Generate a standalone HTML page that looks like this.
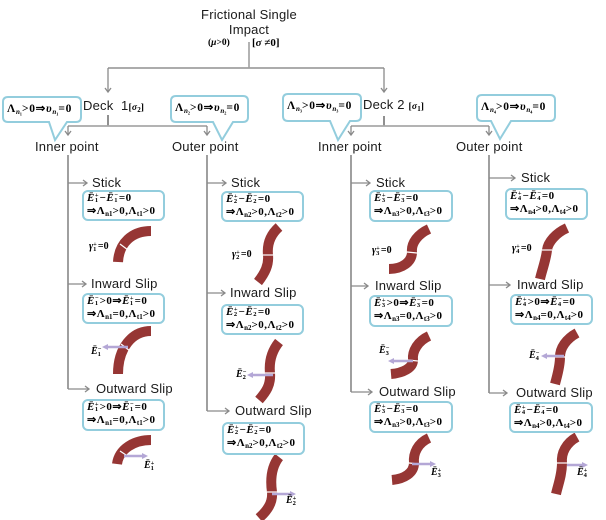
<!DOCTYPE html>
<html><head><meta charset="utf-8">
<style>
html,body{margin:0;padding:0;background:#fff;}
#c{position:relative;width:606px;height:520px;overflow:hidden;background:#fff;}
.t{position:absolute;font-family:"Liberation Sans",Arial,sans-serif;font-size:13px;line-height:16px;color:#1a1a1a;white-space:nowrap;letter-spacing:0.2px;}
.m{position:absolute;font-family:"Liberation Serif","Times New Roman",serif;font-weight:bold;color:#000;white-space:nowrap;}
.box{position:absolute;box-sizing:border-box;border:2px solid #93cddd;border-radius:6px;background:#fff;padding:0 0 0 3px;font-family:"Liberation Serif","Times New Roman",serif;font-weight:bold;font-size:11px;letter-spacing:0.5px;line-height:13px;white-space:nowrap;color:#000;}
.ss{display:inline-block;vertical-align:middle;font-size:6.5px;line-height:5px;margin:0 1px 0 0;letter-spacing:0;}
.sb{font-size:7px;vertical-align:-2px;line-height:0;letter-spacing:0;}
.co{font-size:11.5px;line-height:13px;letter-spacing:0.7px;}
i{font-style:italic;}
svg{position:absolute;left:0;top:0;}
</style></head><body><div id="c">
<svg width="606" height="520" viewBox="0 0 606 520">
 <g fill="none" stroke="#8a8a8a" stroke-width="1.3">
  <line x1="249" y1="42" x2="249" y2="68"/>
  <line x1="108" y1="68" x2="384" y2="68" stroke="#a0a0a0" stroke-width="1.8"/>
  <line x1="108" y1="68" x2="108" y2="92"/>
  <line x1="384" y1="68" x2="384" y2="92"/>
  <polyline points="105,88 108,92 111,88"/>
  <polyline points="381,88 384,92 387,88"/>
  <line x1="108" y1="115" x2="108" y2="126" stroke="#555"/>
  <line x1="68" y1="126" x2="207" y2="126" stroke="#a8a8a8" stroke-width="1.8"/>
  <line x1="68" y1="126" x2="68" y2="135"/>
  <line x1="207" y1="126" x2="207" y2="135"/>
  <polyline points="65,131 68,135 71,131"/>
  <polyline points="204,131 207,135 210,131"/>
  <line x1="384" y1="116" x2="384" y2="126" stroke="#555"/>
  <line x1="351" y1="126" x2="489" y2="126" stroke="#a8a8a8" stroke-width="1.8"/>
  <line x1="351" y1="126" x2="351" y2="135"/>
  <line x1="489" y1="126" x2="489" y2="135"/>
  <polyline points="348,131 351,135 354,131"/>
  <polyline points="486,131 489,135 492,131"/>
  <g stroke="#606060" stroke-width="1.2">
   <line x1="68" y1="155" x2="68" y2="389"/>
   <line x1="207" y1="155" x2="207" y2="411"/>
   <line x1="351" y1="155" x2="351" y2="392"/>
   <line x1="489" y1="155" x2="489" y2="393"/>
  </g>
  <line x1="68" y1="183" x2="87" y2="183"/><polyline points="83,180 87,183 83,186"/>
  <line x1="68" y1="284" x2="86" y2="284"/><polyline points="82,281 86,284 82,287"/>
  <line x1="68" y1="389" x2="89" y2="389"/><polyline points="85,386 89,389 85,392"/>
  <line x1="207" y1="183" x2="226" y2="183"/><polyline points="222,180 226,183 222,186"/>
  <line x1="207" y1="293" x2="225" y2="293"/><polyline points="221,290 225,293 221,296"/>
  <line x1="207" y1="411" x2="229" y2="411"/><polyline points="225,408 229,411 225,414"/>
  <line x1="351" y1="183" x2="370" y2="183"/><polyline points="366,180 370,183 366,186"/>
  <line x1="351" y1="286" x2="368" y2="286"/><polyline points="364,283 368,286 364,289"/>
  <line x1="351" y1="392" x2="372" y2="392"/><polyline points="368,389 372,392 368,395"/>
  <line x1="489" y1="178" x2="515" y2="178"/><polyline points="511,175 515,178 511,181"/>
  <line x1="489" y1="285" x2="510" y2="285"/><polyline points="506,282 510,285 506,288"/>
  <line x1="489" y1="393" x2="507" y2="393"/><polyline points="503,390 507,393 503,396"/>
 </g>
 <g fill="#fff" stroke="#93cddd" stroke-width="2">
  <path d="M8,97 H76 Q81,97 81,102 V117 Q81,122 76,122 H67 L55,140 L49,122 H8 Q3,122 3,117 V102 Q3,97 8,97 Z"/>
  <path d="M176,96 H243 Q248,96 248,101 V117 Q248,122 243,122 H233 L222,140 L213,122 H176 Q171,122 171,117 V101 Q171,96 176,96 Z"/>
  <path d="M288,94 H356 Q361,94 361,99 V116 Q361,121 356,121 H350 L338,140 L330,121 H288 Q283,121 283,116 V99 Q283,94 288,94 Z"/>
  <path d="M482,95 H550 Q555,95 555,100 V116 Q555,121 550,121 H511 L500,139 L491,121 H482 Q477,121 477,116 V100 Q477,95 482,95 Z"/>
 </g>
 <g fill="none" stroke="#963634" stroke-width="10">
  <path d="M151,231 C132,231 119,243 118,262"/>
  <path d="M151,331 C132,331 118,348 118,374"/>
  <path d="M151,440 C134,440 119,449 117,464"/>
  <path d="M279,227 C270,235 267,245 268,255 C269,265 265,273 258,282"/>
  <path d="M279,342 C271,352 269,363 270,373 C271,385 266,392 259,400"/>
  <path d="M279,457 C272,466 270,478 272,492 C273,503 267,511 259,518"/>
  <path d="M429,229 C418,234 411,243 412,252 C412,262 402,269 389,269"/>
  <path d="M429,336 C418,341 412,351 413,360 C413,368 403,373 391,374"/>
  <path d="M429,438 C418,443 413,453 414,463 C414,473 404,479 392,480"/>
  <path d="M567,228 C556,233 548,242 547,250 C546,260 542,270 540,279"/>
  <path d="M577,333 C566,339 560,348 560,357 C560,367 557,376 555,384"/>
  <path d="M577,437 C566,443 561,453 562,463 C562,475 558,485 556,494"/>
 </g>
 <g stroke="#fff" stroke-width="1.2">
  <line x1="120" y1="244" x2="128" y2="250"/>
  <line x1="121" y1="344" x2="130" y2="351"/>
  <line x1="120" y1="451" x2="129" y2="457"/>
  <line x1="263" y1="255" x2="273" y2="255"/>
  <line x1="265" y1="373" x2="275" y2="373"/>
  <line x1="267" y1="492" x2="277" y2="492"/>
  <line x1="407" y1="252" x2="417" y2="253"/>
  <line x1="408" y1="360" x2="418" y2="361"/>
  <line x1="409" y1="463" x2="419" y2="464"/>
  <line x1="542" y1="250" x2="552" y2="250"/>
  <line x1="555" y1="357" x2="565" y2="357"/>
  <line x1="557" y1="463" x2="567" y2="463"/>
 </g>
 <g stroke="#b4a7d6" stroke-width="2.5" fill="#b4a7d6">
  <line x1="128" y1="347" x2="107" y2="347"/><polygon stroke="none" points="102,347 108,344 108,350"/>
  <line x1="124" y1="456" x2="143" y2="456"/><polygon stroke="none" points="148,456 142,453 142,459"/>
  <line x1="273" y1="375" x2="252" y2="375"/><polygon stroke="none" points="247,375 253,372 253,378"/>
  <line x1="272" y1="494" x2="291" y2="494"/><polygon stroke="none" points="296,494 290,491 290,497"/>
  <line x1="413" y1="361" x2="393" y2="361"/><polygon stroke="none" points="388,361 394,358 394,364"/>
  <line x1="412" y1="464" x2="431" y2="464"/><polygon stroke="none" points="436,464 430,461 430,467"/>
  <line x1="564" y1="356" x2="546" y2="356"/><polygon stroke="none" points="541,356 547,353 547,359"/>
  <line x1="567" y1="465" x2="583" y2="465"/><polygon stroke="none" points="588,465 582,462 582,468"/>
 </g>
</svg>

<div class="t" style="left:149px;top:7px;width:200px;text-align:center;">Frictional Single</div>
<div class="t" style="left:149px;top:22px;width:200px;text-align:center;">Impact</div>
<div class="m" style="left:208px;top:37px;font-size:9.5px;line-height:12px;">(<i>μ</i>&gt;0)</div>
<div class="m" style="left:252px;top:37px;font-size:11px;line-height:13px;">[<i>σ</i> ≠0]</div>

<div class="t" style="left:83px;top:98px;">Deck&nbsp; 1<span class="m" style="position:static;font-size:9.5px;">[<i>σ</i><span class="sb">2</span>]</span></div>
<div class="t" style="left:363px;top:97px;">Deck 2 <span class="m" style="position:static;font-size:9.5px;">[<i>σ</i><span class="sb">1</span>]</span></div>

<div class="m co" style="left:7px;top:103px;">Λ<span class="sb"><i>n</i>₁</span>&gt;0⇒<i>υ</i><span class="sb"><i>n</i>₁</span>=0</div>
<div class="m co" style="left:175px;top:102px;">Λ<span class="sb"><i>n</i>₂</span>&gt;0⇒<i>υ</i><span class="sb"><i>n</i>₂</span>=0</div>
<div class="m co" style="left:287px;top:100px;">Λ<span class="sb"><i>n</i>₃</span>&gt;0⇒<i>υ</i><span class="sb"><i>n</i>₃</span>=0</div>
<div class="m co" style="left:481px;top:101px;">Λ<span class="sb"><i>n</i>₄</span>&gt;0⇒<i>υ</i><span class="sb"><i>n</i>₄</span>=0</div>

<div class="t" style="left:35px;top:139px;">Inner point</div>
<div class="t" style="left:172px;top:139px;">Outer point</div>
<div class="t" style="left:318px;top:139px;">Inner point</div>
<div class="t" style="left:456px;top:139px;">Outer point</div>

<!-- column 1 -->
<div class="t" style="left:92px;top:175px;">Stick</div>
<div class="box" style="left:82px;top:190px;width:83px;height:31px;"><i>Ē</i><span class="ss">+<br>1</span>−<i>Ē</i><span class="ss">−<br>1</span>=0<br>⇒Λ<span class="sb">n1</span>&gt;0,Λ<span class="sb">t1</span>&gt;0</div>
<div class="m" style="left:89px;top:241px;font-size:10px;line-height:12px;"><i>γ</i><span class="ss">+<br>1</span>=0</div>
<div class="t" style="left:91px;top:276px;">Inward Slip</div>
<div class="box" style="left:82px;top:293px;width:83px;height:31px;"><i>Ē</i><span class="ss">−<br>1</span>&gt;0⇒<i>Ē</i><span class="ss">+<br>1</span>=0<br>⇒Λ<span class="sb">n1</span>=0,Λ<span class="sb">t1</span>&gt;0</div>
<div class="m" style="left:91px;top:346px;font-size:10px;line-height:12px;"><i>Ē</i><span class="ss">−<br>1</span></div>
<div class="t" style="left:96px;top:381px;">Outward Slip</div>
<div class="box" style="left:82px;top:399px;width:83px;height:32px;"><i>Ē</i><span class="ss">+<br>1</span>&gt;0⇒<i>Ē</i><span class="ss">−<br>1</span>=0<br>⇒Λ<span class="sb">n1</span>=0,Λ<span class="sb">t1</span>&gt;0</div>
<div class="m" style="left:144px;top:460px;font-size:10px;line-height:12px;"><i>Ē</i><span class="ss">+<br>1</span></div>

<!-- column 2 -->
<div class="t" style="left:231px;top:175px;">Stick</div>
<div class="box" style="left:221px;top:191px;width:83px;height:31px;"><i>Ē</i><span class="ss">+<br>2</span>−<i>Ē</i><span class="ss">−<br>2</span>=0<br>⇒Λ<span class="sb">n2</span>&gt;0,Λ<span class="sb">t2</span>&gt;0</div>
<div class="m" style="left:232px;top:249px;font-size:10px;line-height:12px;"><i>γ</i><span class="ss">+<br>2</span>=0</div>
<div class="t" style="left:230px;top:285px;">Inward Slip</div>
<div class="box" style="left:221px;top:304px;width:83px;height:31px;"><i>Ē</i><span class="ss">+<br>2</span>−<i>Ē</i><span class="ss">−<br>2</span>=0<br>⇒Λ<span class="sb">n2</span>&gt;0,Λ<span class="sb">t2</span>&gt;0</div>
<div class="m" style="left:236px;top:369px;font-size:10px;line-height:12px;"><i>Ē</i><span class="ss">−<br>2</span></div>
<div class="t" style="left:235px;top:403px;">Outward Slip</div>
<div class="box" style="left:222px;top:422px;width:83px;height:33px;"><i>Ē</i><span class="ss">+<br>2</span>−<i>Ē</i><span class="ss">−<br>2</span>=0<br>⇒Λ<span class="sb">n2</span>&gt;0,Λ<span class="sb">t2</span>&gt;0</div>
<div class="m" style="left:286px;top:495px;font-size:10px;line-height:12px;"><i>Ē</i><span class="ss">+<br>2</span></div>

<!-- column 3 -->
<div class="t" style="left:376px;top:175px;">Stick</div>
<div class="box" style="left:369px;top:190px;width:84px;height:32px;"><i>Ē</i><span class="ss">+<br>3</span>−<i>Ē</i><span class="ss">−<br>3</span>=0<br>⇒Λ<span class="sb">n3</span>&gt;0,Λ<span class="sb">t3</span>&gt;0</div>
<div class="m" style="left:372px;top:245px;font-size:10px;line-height:12px;"><i>γ</i><span class="ss">+<br>3</span>=0</div>
<div class="t" style="left:375px;top:278px;">Inward Slip</div>
<div class="box" style="left:369px;top:295px;width:84px;height:32px;"><i>Ē</i><span class="ss">+<br>3</span>&gt;0⇒<i>Ē</i><span class="ss">−<br>3</span>=0<br>⇒Λ<span class="sb">n3</span>=0,Λ<span class="sb">t3</span>&gt;0</div>
<div class="m" style="left:379px;top:345px;font-size:10px;line-height:12px;"><i>Ē</i><span class="ss">−<br>3</span></div>
<div class="t" style="left:379px;top:384px;">Outward Slip</div>
<div class="box" style="left:369px;top:401px;width:84px;height:32px;"><i>Ē</i><span class="ss">+<br>3</span>−<i>Ē</i><span class="ss">−<br>3</span>=0<br>⇒Λ<span class="sb">n3</span>&gt;0,Λ<span class="sb">t3</span>&gt;0</div>
<div class="m" style="left:431px;top:467px;font-size:10px;line-height:12px;"><i>Ē</i><span class="ss">+<br>3</span></div>

<!-- column 4 -->
<div class="t" style="left:521px;top:170px;">Stick</div>
<div class="box" style="left:505px;top:188px;width:83px;height:32px;"><i>Ē</i><span class="ss">+<br>4</span>−<i>Ē</i><span class="ss">−<br>4</span>=0<br>⇒Λ<span class="sb">n4</span>&gt;0,Λ<span class="sb">t4</span>&gt;0</div>
<div class="m" style="left:512px;top:243px;font-size:10px;line-height:12px;"><i>γ</i><span class="ss">+<br>4</span>=0</div>
<div class="t" style="left:517px;top:277px;">Inward Slip</div>
<div class="box" style="left:510px;top:294px;width:83px;height:31px;"><i>Ē</i><span class="ss">+<br>4</span>&gt;0⇒<i>Ē</i><span class="ss">−<br>4</span>=0<br>⇒Λ<span class="sb">n4</span>=0,Λ<span class="sb">t4</span>&gt;0</div>
<div class="m" style="left:529px;top:350px;font-size:10px;line-height:12px;"><i>Ē</i><span class="ss">−<br>4</span></div>
<div class="t" style="left:516px;top:385px;">Outward Slip</div>
<div class="box" style="left:509px;top:402px;width:84px;height:31px;"><i>Ē</i><span class="ss">+<br>4</span>−<i>Ē</i><span class="ss">−<br>4</span>=0<br>⇒Λ<span class="sb">n4</span>&gt;0,Λ<span class="sb">t4</span>&gt;0</div>
<div class="m" style="left:577px;top:467px;font-size:10px;line-height:12px;"><i>Ē</i><span class="ss">+<br>4</span></div>

</div></body></html>
